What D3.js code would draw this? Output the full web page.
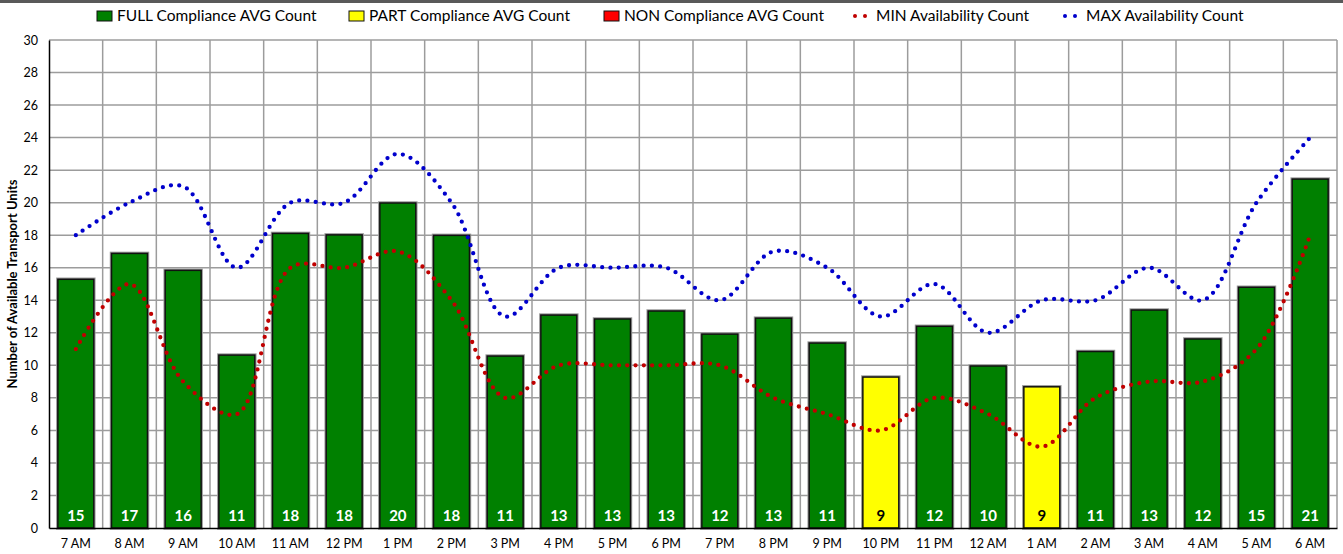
<!DOCTYPE html>
<html>
<head>
<meta charset="utf-8">
<script src="https://cdn.jsdelivr.net/npm/d3@7"></script>
<style>
  body { margin: 0; background: #fff; }
  text { font-family: Lato, "Open Sans", sans-serif; }
</style>
</head>
<body>
<div id="chart"></div>
<script>
// Chart data
var hours = ["7 AM", "8 AM", "9 AM", "10 AM", "11 AM", "12 PM", "1 PM", "2 PM", "3 PM", "4 PM", "5 PM", "6 PM",
             "7 PM", "8 PM", "9 PM", "10 PM", "11 PM", "12 AM", "1 AM", "2 AM", "3 AM", "4 AM", "5 AM", "6 AM"];
var avgCount = [15.29, 16.88, 15.84, 10.63, 18.11, 18.02, 19.98, 17.99, 10.57, 13.09, 12.85, 13.34,
                11.92, 12.9, 11.37, 9.28, 12.4, 9.96, 8.68, 10.85, 13.4, 11.62, 14.8, 21.45];
var compliance = ["FULL", "FULL", "FULL", "FULL", "FULL", "FULL", "FULL", "FULL", "FULL", "FULL", "FULL", "FULL",
                  "FULL", "FULL", "FULL", "PART", "FULL", "FULL", "PART", "FULL", "FULL", "FULL", "FULL", "FULL"];
var minAvail = [11, 15, 9, 7, 16, 16, 17, 14, 8, 10, 10, 10, 10, 8, 7, 6, 8, 7, 5, 8, 9, 9, 11, 18];
var maxAvail = [18, 20, 21, 16, 20, 20, 23, 20, 13, 16, 16, 16, 14, 17, 16, 13, 15, 12, 14, 14, 16, 14, 20, 24];
var yTicks = [0, 2, 4, 6, 8, 10, 12, 14, 16, 18, 20, 22, 24, 26, 28, 30];

var legendItems = [
  {label: "FULL Compliance AVG Count", type: "bar", key: "FULL"},
  {label: "PART Compliance AVG Count", type: "bar", key: "PART"},
  {label: "NON Compliance AVG Count", type: "bar", key: "NON"},
  {label: "MIN Availability Count", type: "line", key: "MIN"},
  {label: "MAX Availability Count", type: "line", key: "MAX"}
];

var barColor = {FULL: "#008000", PART: "#ffff00", NON: "#ff0000"};
var lineColor = {MIN: "#c00000", MAX: "#0000cc"};

var W = 1343, H = 554;
var margin = {top: 40, right: 6, bottom: 26, left: 49};
var width = W - margin.left - margin.right;
var height = H - margin.top - margin.bottom;

var svg = d3.select("#chart").append("svg")
    .attr("width", W)
    .attr("height", H);

// dark border strip on top
svg.append("rect")
    .attr("x", 0).attr("y", 0)
    .attr("width", W).attr("height", 3)
    .attr("fill", "#595959");

var chart = svg.append("g")
    .attr("transform", "translate(" + margin.left + "," + margin.top + ")");

// scales
var x = d3.scaleBand().domain(hours).range([0, width]).padding(0);
var y = d3.scaleLinear().domain([0, 30]).range([height, 0]);

// gridlines
chart.append("g").attr("class", "grid-y")
  .selectAll("line").data(yTicks.slice(1)).enter().append("line")
    .attr("x1", 0).attr("x2", width)
    .attr("y1", d => y(d)).attr("y2", d => y(d))
    .attr("stroke", "#9c9c9c").attr("stroke-width", 1.5);

var bounds = hours.map(h => x(h)).concat([width]);
chart.append("g").attr("class", "grid-x")
  .selectAll("line").data(bounds.slice(1)).enter().append("line")
    .attr("x1", d => d).attr("x2", d => d)
    .attr("y1", 0).attr("y2", height)
    .attr("stroke", "#9c9c9c").attr("stroke-width", 1.5);

// bars
var barData = hours.map((h, i) => ({hour: h, value: avgCount[i], status: compliance[i]}));
var bw = x.bandwidth() * 0.67;

var bars = chart.append("g").attr("class", "bars")
  .selectAll("g").data(barData).enter().append("g");

bars.append("rect")
    .attr("x", d => x(d.hour) + (x.bandwidth() - bw) / 2)
    .attr("y", d => y(d.value))
    .attr("width", bw)
    .attr("height", d => height - y(d.value))
    .attr("fill", "none")
    .attr("stroke", "#9a9a9a")
    .attr("stroke-width", 3.5);

bars.append("rect")
    .attr("x", d => x(d.hour) + (x.bandwidth() - bw) / 2)
    .attr("y", d => y(d.value))
    .attr("width", bw)
    .attr("height", d => height - y(d.value))
    .attr("fill", d => barColor[d.status])
    .attr("stroke", "#111")
    .attr("stroke-width", 1.5);

bars.append("text")
    .attr("x", d => x(d.hour) + x.bandwidth() / 2)
    .attr("y", height - 7)
    .attr("text-anchor", "middle")
    .attr("font-size", 15)
    .attr("font-weight", "bold")
    .attr("fill", d => d.status == "PART" ? "#000" : "#fff")
    .text(d => Math.round(d.value));

// dotted smooth lines
var line = d3.line()
    .x((d, i) => x(hours[i]) + x.bandwidth() / 2)
    .y(d => y(d))
    .curve(d3.curveCatmullRom.alpha(0.5));

chart.append("path")
    .datum(minAvail)
    .attr("d", line)
    .attr("fill", "none")
    .attr("stroke", lineColor.MIN)
    .attr("stroke-width", 4.3)
    .attr("stroke-linecap", "round")
    .attr("stroke-dasharray", "0 8.3");

chart.append("path")
    .datum(maxAvail)
    .attr("d", line)
    .attr("fill", "none")
    .attr("stroke", lineColor.MAX)
    .attr("stroke-width", 4.3)
    .attr("stroke-linecap", "round")
    .attr("stroke-dasharray", "0 8.3");

// axes
var yAxis = d3.axisLeft(y).tickValues(yTicks).tickSize(0).tickPadding(11);
var gy = chart.append("g").attr("class", "y-axis").call(yAxis);
gy.select(".domain").attr("stroke", "#000").attr("stroke-width", 1.5);
gy.selectAll("text").attr("font-size", 12.5).attr("fill", "#000");

var xAxis = d3.axisBottom(x).tickSize(0).tickPadding(11);
var gx = chart.append("g").attr("class", "x-axis")
    .attr("transform", "translate(0," + height + ")")
    .call(xAxis);
gx.select(".domain").attr("stroke", "#000").attr("stroke-width", 1.5);
gx.selectAll("text").attr("font-size", 12.5).attr("fill", "#000");

// y axis title
svg.append("text")
    .attr("transform", "translate(17," + (margin.top + height / 2) + ") rotate(-90)")
    .attr("text-anchor", "middle")
    .attr("font-size", 13)
    .attr("font-weight", "bold")
    .text("Number of Available Transport Units");

// legend
var legendX = [97, 349, 604, 852, 1062];
var legend = svg.append("g").attr("class", "legend")
  .selectAll("g").data(legendItems).enter().append("g")
    .attr("transform", (d, i) => "translate(" + legendX[i] + ",16)");

legend.filter(d => d.type == "bar").append("rect")
    .attr("x", 0).attr("y", -5)
    .attr("width", 15).attr("height", 10)
    .attr("fill", d => barColor[d.key])
    .attr("stroke", "#111").attr("stroke-width", 1);

legend.filter(d => d.type == "line").selectAll("circle")
    .data(d => [0, 10].map(o => ({o: o, key: d.key}))).enter().append("circle")
    .attr("cx", d => 3 + d.o).attr("cy", 0).attr("r", 2)
    .attr("fill", d => lineColor[d.key]);

legend.append("text")
    .attr("x", d => d.type == "bar" ? 20 : 24)
    .attr("y", 0)
    .attr("dy", "0.35em")
    .attr("font-size", 15.5)
    .text(d => d.label);
</script>
</body>
</html>
